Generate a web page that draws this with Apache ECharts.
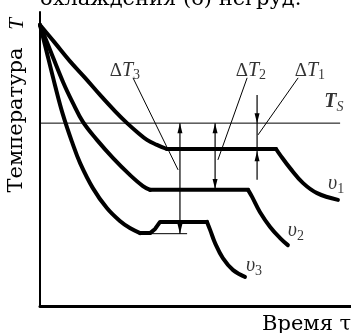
<!DOCTYPE html>
<html>
<head>
<meta charset="utf-8">
<script src="https://cdn.jsdelivr.net/npm/echarts@6/dist/echarts.min.js"></script>
<style>
  html, body { margin: 0; padding: 0; background: #fff; }
  #chart { width: 351px; height: 333px; }
</style>
</head>
<body>
<div id="chart"></div>
<script>
// Cooling curves: time (0..100) vs temperature (0..100), three cooling rates v1 < v2 < v3.
// Each curve: cooling branch, crystallisation plateau, cooling tail.
const v1Cooling = [[0, 95.6], [4.8, 89.5], [9.6, 83.3], [14.5, 77.6], [19.3, 71.8], [24.1, 66.3],
  [28.0, 62.2], [31.2, 59.2], [34.4, 56.5], [37.6, 54.8], [40.8, 53.4]];
const v1Plateau = [[40.8, 53.4], [75.9, 53.4]];
const v1Tail = [[75.9, 53.4], [77.2, 51.4], [80.4, 46.9], [84.6, 41.8], [89.1, 38.4], [95.8, 36.1]];

const v2Cooling = [[0, 95.6], [2.6, 88.8], [7.4, 76.2], [10.6, 69.0], [13.8, 62.6], [18.3, 56.5],
  [23.5, 50.3], [28.9, 44.6], [33.1, 40.8], [35.4, 39.5]];
const v2Plateau = [[35.4, 39.5], [66.9, 39.5]];
const v2Tail = [[66.9, 39.5], [68.2, 37.1], [70.7, 32.0], [74.0, 26.9], [77.2, 23.1], [79.7, 20.7]];

const v3Cooling = [[0, 95.6], [1.6, 88.8], [4.8, 75.2], [7.4, 65.0], [10.3, 55.8], [12.9, 48.6],
  [17.0, 40.1], [21.5, 33.3], [25.7, 28.9], [28.9, 26.5], [32.2, 24.8]];
const v3Plateau = [[32.2, 24.8], [35.4, 24.8], [37.0, 26.2], [38.6, 28.6], [53.7, 28.6]];
const v3Tail = [[53.7, 28.6], [54.7, 25.9], [56.3, 21.4], [58.8, 16.3], [62.1, 12.2], [65.9, 9.9]];

// Equilibrium temperature T_S and the undercooling minimum of the v3 curve
const tempS = 62.2;
const tsLine = [[0, tempS], [96.5, tempS]];
const v3MinLine = [[35.4, 24.6], [47.3, 24.6]];

// Undercooling measures ΔT: [time, upper temperature, lower temperature]
const deltaRules = [[45.0, 62.2, 24.6], [56.3, 62.2, 39.8], [69.8, 71.8, 42.9]];
// Arrow heads: [time, tip temperature, direction (+1 up, -1 down)]
const deltaHeads = [[45.0, 62.2, 1], [45.0, 24.6, -1], [56.3, 62.2, 1], [56.3, 39.8, -1],
  [69.8, 62.2, -1], [69.8, 52.6, 1]];

// Leader lines from the ΔT captions to their measures
const leaderT3 = [[29.9, 77.6], [44.4, 46.3]];
const leaderT2 = [[66.6, 77.6], [57.2, 49.7]];
const leaderT1 = [[83.0, 77.6], [70.1, 58.2]];

// Caption positions and texts
const deltaCaptions = [[27.3, 79.9, '3'], [67.8, 79.9, '2'], [86.8, 79.9, '1']];
const rateCaptions = [[95.2, 41.5, '1'], [82.3, 25.5, '2'], [68.8, 13.6, '3']];
const tsCaption = [[94.5, 69.4, 'S']];

const mathFont = 'Liberation Serif';
const thick = { color: '#000', width: 4, join: 'round', cap: 'round' };
const thin = { color: '#000', width: 1 };

function curve(data, style, smooth) {
  return { type: 'line', data, symbol: 'none', lineStyle: style, smooth: smooth || false,
    silent: true, animation: false, z: 3 };
}

const chart = echarts.init(document.getElementById('chart'), null, { renderer: 'canvas' });
chart.setOption({
  animation: false,
  backgroundColor: '#fff',
  grid: { left: 40, right: 0, top: 12, bottom: 27 },
  xAxis: {
    type: 'value', min: 0, max: 100,
    axisLine: { show: true, lineStyle: { color: '#000', width: 3 } },
    axisTick: { show: false }, axisLabel: { show: false }, splitLine: { show: false }
  },
  yAxis: {
    type: 'value', min: 0, max: 100,
    axisLine: { show: true, lineStyle: { color: '#000', width: 2 } },
    axisTick: { show: false }, axisLabel: { show: false }, splitLine: { show: false }
  },
  graphic: [
    { type: 'text', left: 40, top: -11,
      style: { text: 'охлаждения (б) негруд.', font: '21px "DejaVu Serif"', fill: '#000' } },
    { type: 'text', x: 17, y: 120, rotation: Math.PI / 2,
      style: { text: 'Температура', font: '21px "DejaVu Serif"', fill: '#000',
        align: 'center', verticalAlign: 'middle' } },
    { type: 'text', x: 17, y: 24, rotation: Math.PI / 2,
      style: { text: 'T', font: 'italic 21px "Liberation Serif"', fill: '#000',
        align: 'center', verticalAlign: 'middle' } },
    { type: 'text', left: 262, top: 314,
      style: { text: 'Время τ', font: '21px "DejaVu Serif"', fill: '#000' } }
  ],
  series: [
    curve(tsLine, thin),
    curve(v3MinLine, thin),
    curve(leaderT3, thin),
    curve(leaderT2, thin),
    curve(leaderT1, thin),
    curve(v1Cooling, thick, 0.4), curve(v1Plateau, thick), curve(v1Tail, thick, 0.4),
    curve(v2Cooling, thick, 0.4), curve(v2Plateau, thick), curve(v2Tail, thick, 0.4),
    curve(v3Cooling, thick, 0.4), curve(v3Plateau, thick), curve(v3Tail, thick, 0.4),
    {
      type: 'custom', data: deltaRules, silent: true, z: 4,
      renderItem(params, api) {
        const a = api.coord([api.value(0), api.value(1)]);
        const b = api.coord([api.value(0), api.value(2)]);
        return { type: 'line', shape: { x1: a[0], y1: a[1], x2: b[0], y2: b[1] },
          style: { stroke: '#000', lineWidth: 1.2 } };
      }
    },
    {
      type: 'custom', data: deltaHeads, silent: true, z: 5,
      renderItem(params, api) {
        const p = api.coord([api.value(0), api.value(1)]);
        const d = api.value(2);
        const len = 10, hw = 2.5;
        return { type: 'polygon',
          shape: { points: [[p[0], p[1]], [p[0] - hw, p[1] + d * len], [p[0] + hw, p[1] + d * len]] },
          style: { fill: '#000' } };
      }
    },
    {
      type: 'scatter', data: deltaCaptions, symbolSize: 0, silent: true, z: 6,
      label: {
        show: true, position: 'inside',
        formatter: p => '{d|Δ}{t|T}{s|' + p.value[2] + '}',
        rich: {
          d: { fontFamily: mathFont, fontSize: 19, color: '#000' },
          t: { fontFamily: mathFont, fontStyle: 'italic', fontSize: 20, color: '#000' },
          s: { fontFamily: mathFont, fontSize: 14, color: '#000', padding: [9, 0, 0, 0] }
        }
      }
    },
    {
      type: 'scatter', data: tsCaption, symbolSize: 0, silent: true, z: 6,
      label: {
        show: true, position: 'inside',
        formatter: p => '{t|T}{s|' + p.value[2] + '}',
        rich: {
          t: { fontFamily: mathFont, fontStyle: 'italic', fontWeight: 'bold', fontSize: 20, color: '#000' },
          s: { fontFamily: mathFont, fontStyle: 'italic', fontSize: 14, color: '#000', padding: [10, 0, 0, 0] }
        }
      }
    },
    {
      type: 'scatter', data: rateCaptions, symbolSize: 0, silent: true, z: 6,
      label: {
        show: true, position: 'inside',
        formatter: p => '{v|υ}{s|' + p.value[2] + '}',
        rich: {
          v: { fontFamily: mathFont, fontStyle: 'italic', fontSize: 20, color: '#000' },
          s: { fontFamily: mathFont, fontSize: 14, color: '#000', padding: [10, 0, 0, 0] }
        }
      }
    }
  ]
});
</script>
</body>
</html>
